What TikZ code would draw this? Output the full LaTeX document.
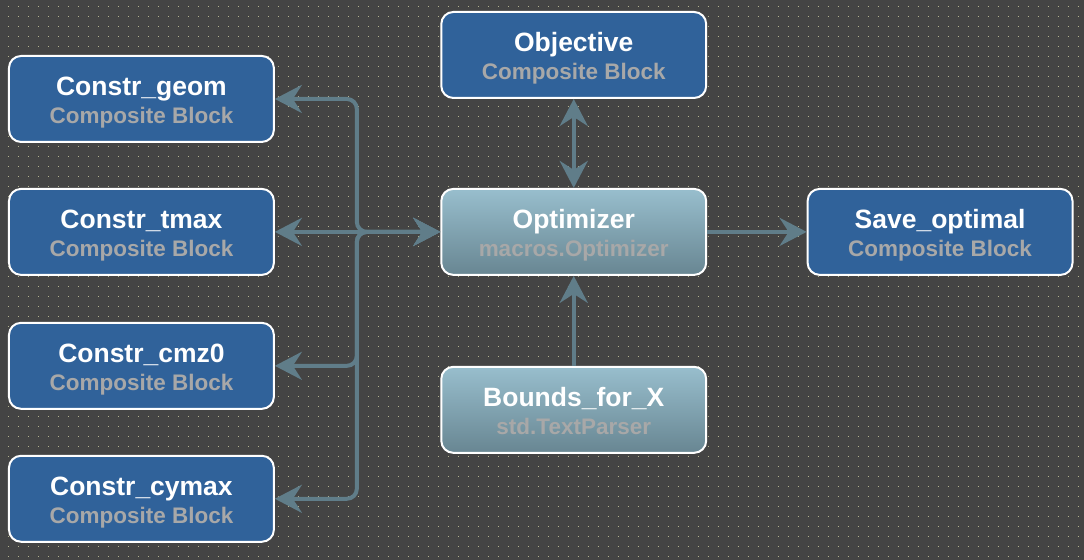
\documentclass[tikz,border=0pt]{standalone}
\usepackage{fontspec}
\setmainfont{Liberation Sans}
\usetikzlibrary{arrows.meta}

\definecolor{bgdark}{RGB}{68,68,68}
\definecolor{griddot}{RGB}{176,176,140}
\definecolor{blockblue}{RGB}{48,98,154}
\definecolor{leaftop}{RGB}{152,190,205}
\definecolor{leafbottom}{RGB}{104,134,146}
\definecolor{subgray}{RGB}{168,168,168}
\definecolor{linkgray}{RGB}{96,125,137}

\newcommand{\blocktext}[2]{\rule{0pt}{28pt}#1\\{\fontsize{22.5}{28}\selectfont\color{subgray}\rule[-6pt]{0pt}{6pt}#2}}

\begin{document}
\begin{tikzpicture}[x=1pt,y=-1pt,
    block/.style={draw=white, line width=2pt, rounded corners=12pt,
      minimum width=265pt, minimum height=86pt, inner sep=0pt, align=center,
      text=white, font=\fontsize{26.5}{28}\selectfont\bfseries},
    composite/.style={block, fill=blockblue},
    leaf/.style={block, top color=leaftop, bottom color=leafbottom},
    link/.style={draw=linkgray, line width=4pt, rounded corners=10pt},
    bigtip/.tip={Stealth[length=27pt, width=28pt, inset=9pt]}]
        % background and dot grid
        \fill[bgdark] (0,0) rectangle (1084,560);
        \foreach \row in {0,...,55}
          \draw[griddot, line width=1pt, dash pattern=on 1pt off 9pt] (8,6.5+10*\row) -- (1084,6.5+10*\row);

        % blocks
        \node[composite] (geom)  at (141.5,99)  {\blocktext{Constr\_geom}{Composite Block}};
        \node[composite] (tmax)  at (141.5,232) {\blocktext{Constr\_tmax}{Composite Block}};
        \node[composite] (cmz)   at (141.5,366) {\blocktext{Constr\_cmz0}{Composite Block}};
        \node[composite] (cymax) at (141.5,499) {\blocktext{Constr\_cymax}{Composite Block}};
        \node[composite] (obj)   at (574,55)    {\blocktext{Objective}{Composite Block}};
        \node[leaf]      (opt)   at (574,232)   {\blocktext{Optimizer}{macros.Optimizer}};
        \node[leaf]      (bnd)   at (574,410)   {\blocktext{Bounds\_for\_X}{std.TextParser}};
        \node[composite] (save)  at (940.5,232) {\blocktext{Save\_optimal}{Composite Block}};
        \coordinate (hub) at (357,232);

        % links
        \draw[link, bigtip-bigtip] (opt.west) -- (hub) |- (geom.east);
        \draw[link, bigtip-bigtip] (opt.west) -- (tmax.east);
        \draw[link, bigtip-bigtip] (opt.west) -- (hub) |- (cmz.east);
        \draw[link, bigtip-bigtip] (opt.west) -- (hub) |- (cymax.east);
        \draw[link, bigtip-bigtip] (obj.south) -- (opt.north);
        \draw[link, -bigtip] (bnd.north) -- (opt.south);
        \draw[link, -bigtip] (opt.east) -- (save.west);
      \end{tikzpicture}
\end{document}
